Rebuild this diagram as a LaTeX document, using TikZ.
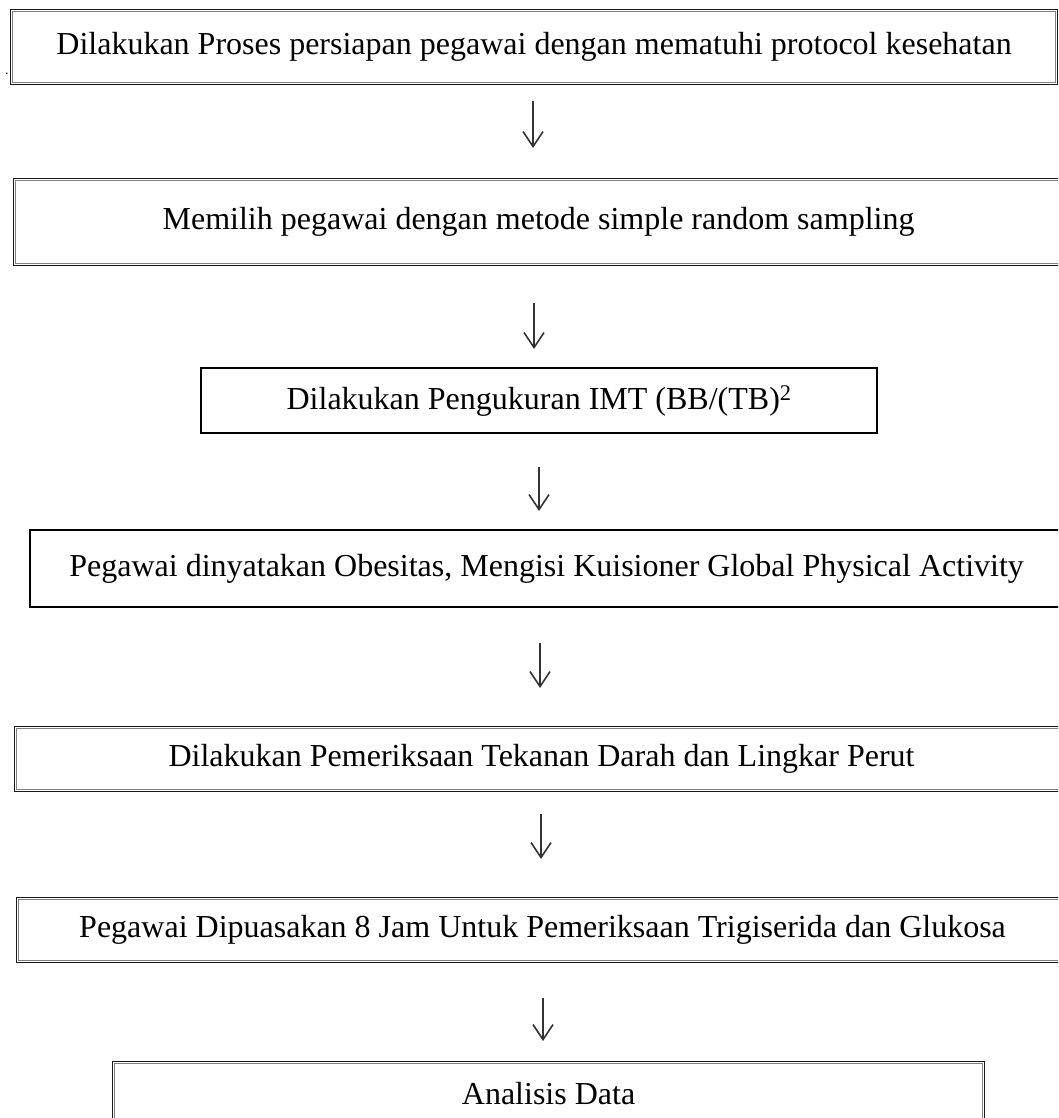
\documentclass[tikz,border=0pt]{standalone}
\usepackage{fontspec}
\setmainfont{Liberation Serif}
\usetikzlibrary{arrows.meta}
\begin{document}
\begin{tikzpicture}[x=1pt,y=-1pt,
  flowtext/.style={font=\fontsize{32}{38}\selectfont, inner sep=0pt, anchor=north west, align=center},
  dblbox/.style={flowtext, draw=black!90, line width=1.1pt},
  thickbox/.style={flowtext, draw=black, line width=2.2pt},
  innerline/.style={draw=black!50, line width=1pt},
  flowarrow/.style={draw=black!80, line width=1.3pt, -{Straight Barb[length=15pt,width=20pt,line width=1.6pt]}}]
\useasboundingbox (0,0) rectangle (1058,1118);
\clip (0,0) rectangle (1058,1118);

% boxes
\node[dblbox, minimum width=1047pt, minimum height=75pt] (b1) at (10,9)
  {Dilakukan Proses persiapan pegawai dengan mematuhi protocol kesehatan};
\node[dblbox, minimum width=1050pt, minimum height=87pt] (b2) at (13,178)
  {Memilih pegawai dengan metode simple random sampling};
\node[thickbox, minimum width=676pt, minimum height=65pt] (b3) at (200,367)
  {Dilakukan Pengukuran IMT (BB/(TB)\textsuperscript{2}};
\node[thickbox, minimum width=1033pt, minimum height=77pt] (b4) at (29,529)
  {Pegawai dinyatakan Obesitas, Mengisi Kuisioner Global Physical Activity};
\node[dblbox, minimum width=1054pt, minimum height=65pt] (b5) at (14,726)
  {Dilakukan Pemeriksaan Tekanan Darah dan Lingkar Perut};
\node[dblbox, minimum width=1052pt, minimum height=65pt] (b6) at (16,897)
  {Pegawai Dipuasakan 8 Jam Untuk Pemeriksaan Trigiserida dan Glukosa};
\node[dblbox, minimum width=872pt, minimum height=64pt] (b7) at (112,1061)
  {Analisis Data};

% inner lines of the double borders
\foreach \b in {b1,b2,b5,b6,b7}{
  \draw[innerline] ([shift={(2.2,2.2)}]\b.north west) rectangle ([shift={(-2.2,-2.2)}]\b.south east);
}

% stray dot at the left of the first box
\node[font=\fontsize{14}{16}\selectfont, inner sep=0pt] (dot) at (7,74) {.};

% arrow end points
\coordinate (a1s) at (533,101);  \coordinate (a1e) at (533,148);
\coordinate (a2s) at (534,303);  \coordinate (a2e) at (534,349);
\coordinate (a3s) at (539,467);  \coordinate (a3e) at (539,511);
\coordinate (a4s) at (540,643);  \coordinate (a4e) at (540,688);
\coordinate (a5s) at (541,814);  \coordinate (a5e) at (541,859);
\coordinate (a6s) at (543,998);  \coordinate (a6e) at (543,1041);

\draw[flowarrow] (a1s) -- (a1e);
\draw[flowarrow] (a2s) -- (a2e);
\draw[flowarrow] (a3s) -- (a3e);
\draw[flowarrow] (a4s) -- (a4e);
\draw[flowarrow] (a5s) -- (a5e);
\draw[flowarrow] (a6s) -- (a6e);
\end{tikzpicture}
\end{document}
